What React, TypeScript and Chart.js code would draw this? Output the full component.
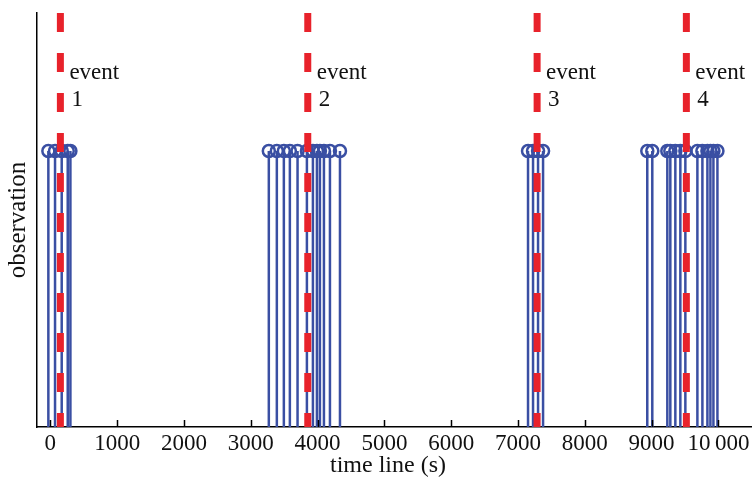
import React, { useEffect, useRef } from "react";
import { Chart, registerables } from "chart.js";

Chart.register(...registerables);

const stemTimes: number[] = [
  -30, 70, 170, 260, 300,
  3270, 3390, 3495, 3585, 3700, 3840, 3930, 3990, 4035, 4095, 4185, 4335,
  7150, 7225, 7300, 7375,
  8935, 9010, 9235, 9280, 9355, 9430, 9505, 9685, 9760, 9835, 9880, 9925, 9985,
];
const stemValue = 1;
const eventTimes: number[] = [150, 3853, 7286, 9520];
const eventLabels: string[] = ["1", "2", "3", "4"];
const xTicks: number[] = [0, 1000, 2000, 3000, 4000, 5000, 6000, 7000, 8000, 9000, 10000];
const xTitle = "time line (s)";
const yTitle = "observation";
const xMin = -200;
const xMax = 10510;
const yMax = 1.5;

const BLUE = "#3a4fa3";
const RED = "#e8222b";
const FONT = "'Liberation Serif', 'Times New Roman', serif";

export default function App() {
  const ref = useRef<HTMLCanvasElement>(null);
  useEffect(() => {
    if (!ref.current) return;
    const stemData: any[] = [];
    stemTimes.forEach((t) => {
      stemData.push({ x: t, y: 0 }, { x: t, y: stemValue }, { x: t, y: null });
    });
    const eventData: any[] = [];
    eventTimes.forEach((t) => {
      eventData.push({ x: t, y: yMax }, { x: t, y: 0 }, { x: t, y: null });
    });

    const labelPlugin = {
      id: "eventLabels",
      afterDatasetsDraw(chart: any) {
        const ctx = chart.ctx;
        const xs = chart.scales.x;
        ctx.save();
        ctx.fillStyle = "#111";
        ctx.font = `23px ${FONT}`;
        ctx.textAlign = "left";
        ctx.textBaseline = "middle";
        eventTimes.forEach((t, i) => {
          const px = xs.getPixelForValue(t);
          ctx.fillText("event", px + 9, 73);
          ctx.fillText(eventLabels[i], px + 11, 100);
        });
        // x title
        ctx.font = `24px ${FONT}`;
        ctx.textAlign = "center";
        ctx.fillText(xTitle, 388, 466);
        // inner tick marks
        ctx.strokeStyle = "#000";
        ctx.lineWidth = 1.5;
        const bottom = chart.chartArea.bottom;
        xTicks.forEach((t) => {
          const px = Math.round(xs.getPixelForValue(t)) + 0.5;
          ctx.beginPath();
          ctx.moveTo(px, bottom);
          ctx.lineTo(px, bottom - 7);
          ctx.stroke();
        });
        ctx.restore();
      },
    };

    const chart = new Chart(ref.current, {
      type: "line",
      data: {
        datasets: [
          {
            label: "events",
            data: eventData,
            borderColor: RED,
            borderWidth: 7,
            borderDash: [19, 21],
            borderCapStyle: "butt",
            pointRadius: 0,
            spanGaps: false,
            order: 0,
          } as any,
          {
            label: "markers",
            data: stemTimes.map((t) => ({ x: t, y: stemValue })),
            showLine: false,
            pointStyle: "circle",
            pointRadius: 6,
            pointBorderWidth: 2.5,
            pointBorderColor: BLUE,
            pointBackgroundColor: "rgba(0,0,0,0)",
            order: 1,
          } as any,
          {
            label: "stems",
            data: stemData,
            borderColor: BLUE,
            borderWidth: 2.5,
            pointRadius: 0,
            spanGaps: false,
            order: 2,
          } as any,
        ],
      },
      options: {
        animation: false,
        responsive: false,
        maintainAspectRatio: false,
        layout: { padding: { top: 13, right: 0, left: 0, bottom: 0 } },
        plugins: {
          legend: { display: false },
          tooltip: { enabled: false },
        },
        scales: {
          x: {
            type: "linear",
            min: xMin,
            max: xMax,
            afterBuildTicks: (scale: any) => {
              scale.ticks = xTicks.map((v) => ({ value: v }));
            },
            afterFit: (scale: any) => {
              scale.height = 52;
            },
            grid: { display: false, drawTicks: false },
            border: { display: true, color: "#000", width: 1.5 },
            ticks: {
              color: "#111",
              font: { family: FONT, size: 23 },
              padding: 3,
              maxRotation: 0,
              autoSkip: false,
              callback: (v: any) => (v === 10000 ? "10\u2009000" : String(v)),
            },
            title: { display: false },
          },
          y: {
            type: "linear",
            min: 0,
            max: yMax,
            afterFit: (scale: any) => {
              scale.width = 37;
            },
            grid: { display: false, drawTicks: false },
            border: { display: true, color: "#000", width: 1.5 },
            ticks: { display: false },
            title: {
              display: true,
              text: yTitle,
              color: "#111",
              font: { family: FONT, size: 25 },
              padding: { top: 3, bottom: 0 },
            },
          },
        },
      },
      plugins: [labelPlugin],
    });
    return () => chart.destroy();
  }, []);
  return (
    <div style={{ position: "absolute", left: 0, top: 0, width: 752, height: 479, background: "#fff", overflow: "hidden" }}>
      <canvas ref={ref} width={761} height={479} style={{ display: "block", width: 761, height: 479 }} />
    </div>
  );
}
